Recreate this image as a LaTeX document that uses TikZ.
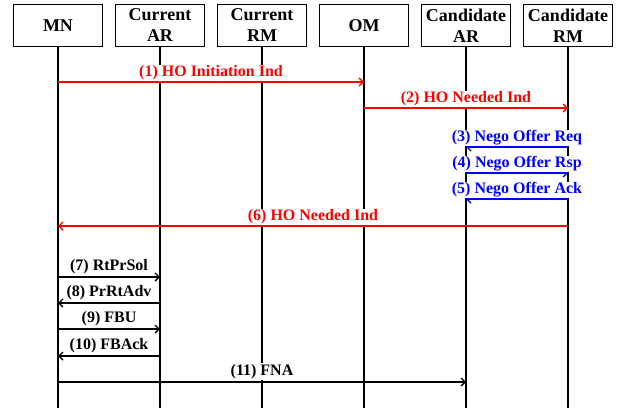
\documentclass[tikz,border=0pt]{standalone}
\usepackage{fontspec}
\setmainfont{Liberation Serif}
\usetikzlibrary{arrows.meta, positioning}

\begin{document}
\begin{tikzpicture}[
    x=1pt, y=1pt,
    node distance=12pt,
    entity/.style={rectangle, draw, line width=1.4pt, minimum width=88.6pt, minimum height=42pt, inner sep=0pt, align=center, font=\fontsize{18}{21}\selectfont\bfseries},
    lifeline/.style={line width=1.3pt},
    msg/.style={-{Straight Barb[length=4pt, width=8pt]}, line width=1.4pt},
    lbl/.style={above, fill=white, inner sep=1pt, font=\fontsize{16}{18}\selectfont\bfseries}
]
\useasboundingbox (0,0) rectangle (618,-408);

% Row 1: Entities
\node[entity] (mn) at (58,-25.5) {MN};
\node[entity, right=of mn] (car) {Current\\AR};
\node[entity, right=of car] (crm) {Current\\RM};
\node[entity, right=of crm] (om) {OM};
\node[entity, right=of om] (nar) {Candidate\\AR};
\node[entity, right=of nar] (nrm) {Candidate\\RM};

% Lifelines
\coordinate (bottom) at (0,-408);
\draw[lifeline] (mn.south) -- (mn |- bottom);
\draw[lifeline] (car.south) -- (car |- bottom);
\draw[lifeline] (crm.south) -- (crm |- bottom);
\draw[lifeline] (om.south) -- (om |- bottom);
\draw[lifeline] (nar.south) -- (nar |- bottom);
\draw[lifeline] (nrm.south) -- (nrm |- bottom);

% Message rows
\coordinate (m1) at (0,-82);
\coordinate (m2) at (0,-108);
\coordinate (m3) at (0,-147);
\coordinate (m4) at (0,-173);
\coordinate (m5) at (0,-199);
\coordinate (m6) at (0,-226);
\coordinate (m7) at (0,-277);
\coordinate (m8) at (0,-303);
\coordinate (m9) at (0,-329);
\coordinate (m10) at (0,-356);
\coordinate (m11) at (0,-382);

% Arrows
\draw[msg, red] (mn |- m1) -- node[lbl, text=red] {(1) HO Initiation Ind} (om |- m1);
\draw[msg, red] (om |- m2) -- node[lbl, text=red] {(2) HO Needed Ind} (nrm |- m2);
\draw[msg, blue] (nrm |- m3) -- node[lbl, text=blue] {(3) Nego Offer Req} (nar |- m3);
\draw[msg, blue] (nar |- m4) -- node[lbl, text=blue] {(4) Nego Offer Rsp} (nrm |- m4);
\draw[msg, blue] (nrm |- m5) -- node[lbl, text=blue] {(5) Nego Offer Ack} (nar |- m5);
\draw[msg, red] (nrm |- m6) -- node[lbl, text=red] {(6) HO Needed Ind} (mn |- m6);
\draw[msg] (mn |- m7) -- node[lbl, yshift=1.5pt] {(7) RtPrSol} (car |- m7);
\draw[msg] (car |- m8) -- node[lbl, yshift=1.5pt] {(8) PrRtAdv} (mn |- m8);
\draw[msg] (mn |- m9) -- node[lbl, yshift=1.5pt] {(9) FBU} (car |- m9);
\draw[msg] (car |- m10) -- node[lbl, yshift=1.5pt] {(10) FBAck} (mn |- m10);
\draw[msg] (mn |- m11) -- node[lbl, yshift=1.5pt] {(11) FNA} (nar |- m11);

\end{tikzpicture}
\end{document}
